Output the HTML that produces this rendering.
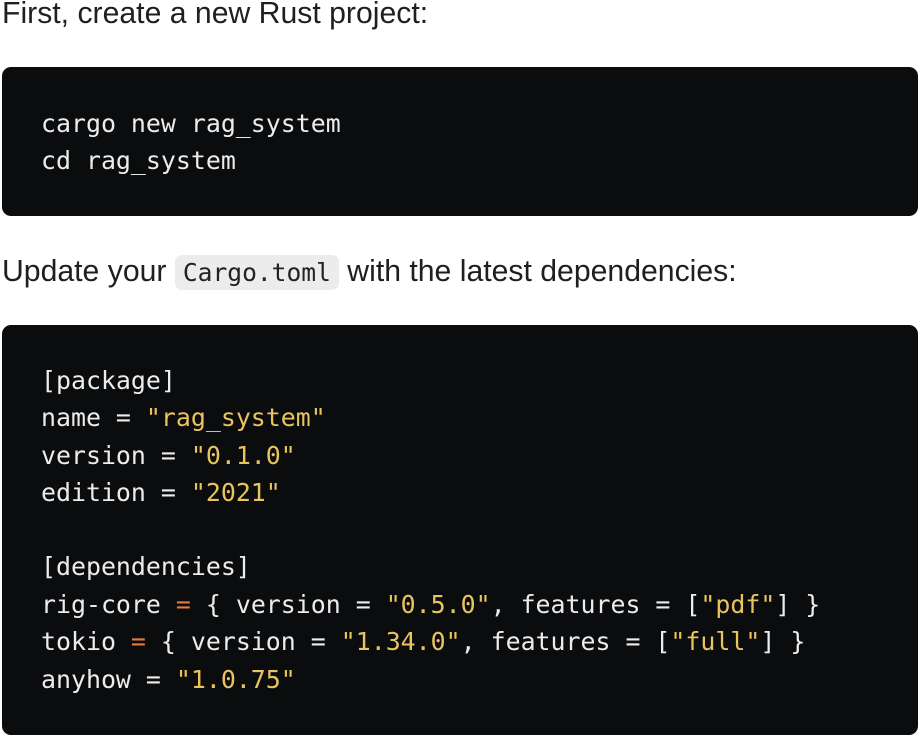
<!DOCTYPE html>
<html><head><meta charset="utf-8"><style>
html,body{margin:0;padding:0;background:#fff;width:924px;height:742px;overflow:hidden;position:relative}
.t{position:absolute;left:2px;font-family:"Liberation Sans",sans-serif;font-size:30.2px;color:#1f1f1f;white-space:nowrap;line-height:34px}
.blk{position:absolute;left:2px;width:916px;background:#0b0c0e;border-radius:9px}
.l{position:absolute;left:39px;font-family:"DejaVu Sans Mono",monospace;font-size:24.9px;color:#ececec;white-space:pre;line-height:30px}
.s{color:#e9c45e}.o{color:#e27a3f}
.ic{font-family:"DejaVu Sans Mono",monospace;font-size:24.6px;background:#ececec;border-radius:7px;padding:3px 8px;color:#222}
</style></head><body>
<div class="t" style="top:-3px">First, create a new Rust project:</div>
<div class="blk" style="top:67px;height:149px">
<div class="l" style="top:42px">cargo new rag_system</div>
<div class="l" style="top:79px">cd rag_system</div>
</div>
<div class="t" style="top:255px">Update your <span class="ic">Cargo.toml</span> with the latest dependencies:</div>
<div class="blk" style="top:325px;height:410px">
<div class="l" style="top:41px">[package]</div>
<div class="l" style="top:78px">name = <span class="s">"rag_system"</span></div>
<div class="l" style="top:116px">version = <span class="s">"0.1.0"</span></div>
<div class="l" style="top:153px">edition = <span class="s">"2021"</span></div>
<div class="l" style="top:227px">[dependencies]</div>
<div class="l" style="top:265px">rig-core <span class="o">=</span> { version = <span class="s">"0.5.0"</span>, features = [<span class="s">"pdf"</span>] }</div>
<div class="l" style="top:302px">tokio <span class="o">=</span> { version = <span class="s">"1.34.0"</span>, features = [<span class="s">"full"</span>] }</div>
<div class="l" style="top:340px">anyhow = <span class="s">"1.0.75"</span></div>
</div>
</body></html>
